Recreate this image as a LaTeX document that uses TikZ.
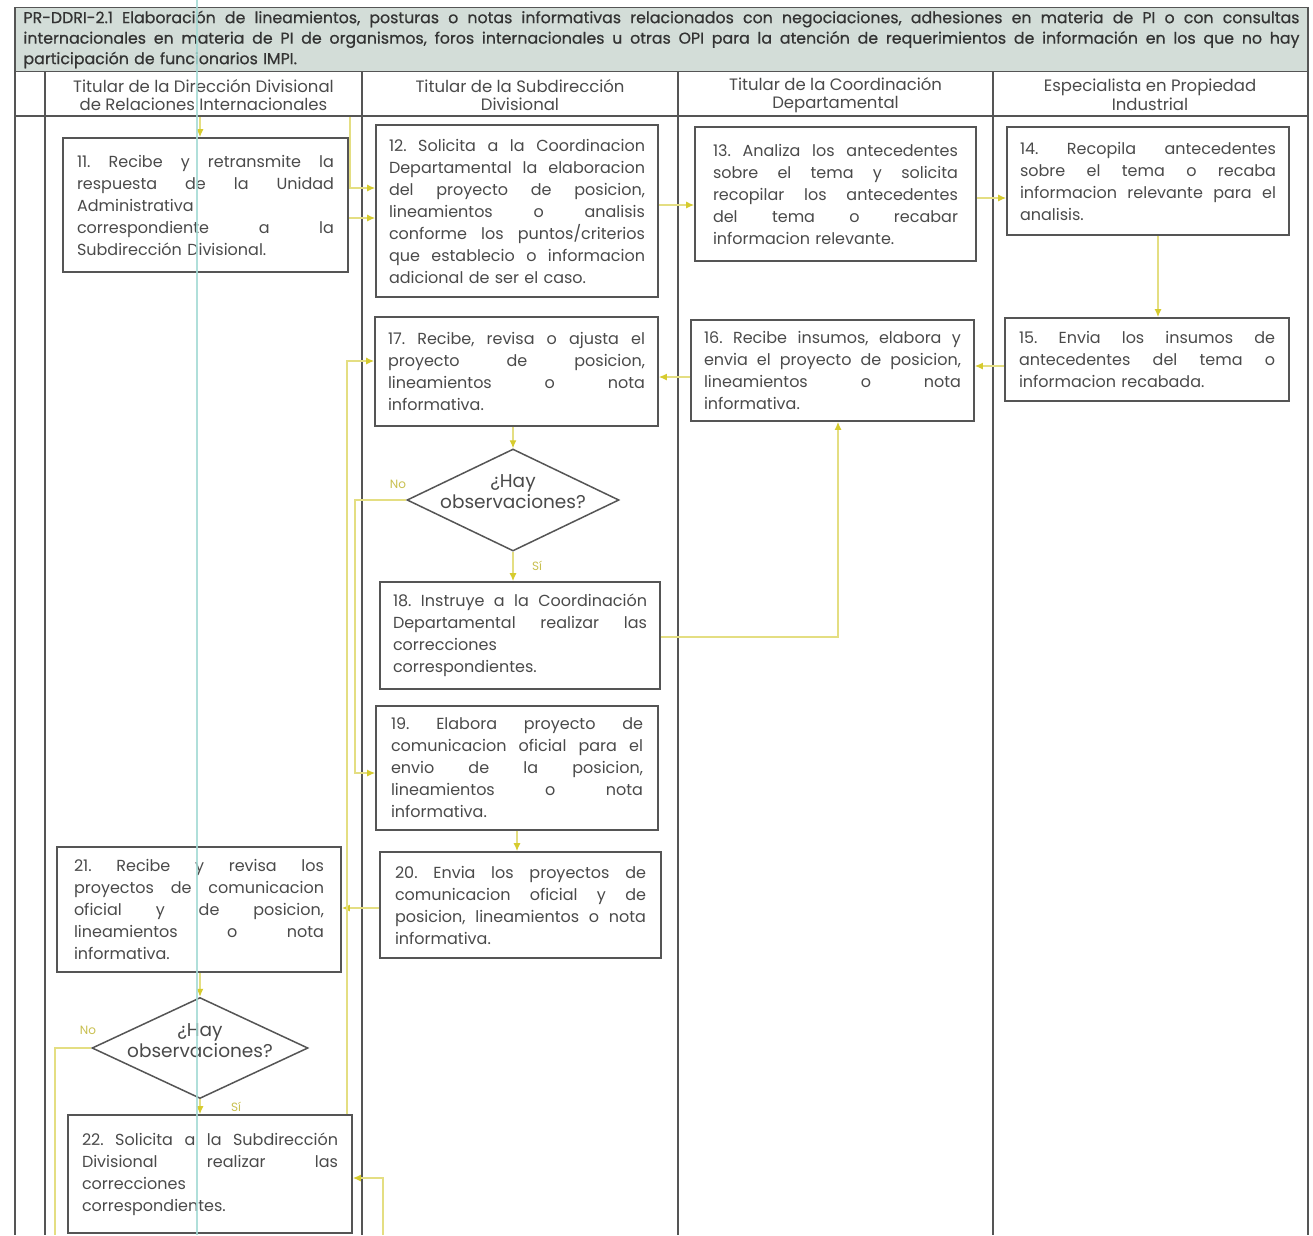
\documentclass[tikz,border=0pt]{standalone}
\usepackage{fontspec}
\setmainfont{Poppins}
\newfontfamily\titlefont[FakeBold=0.6]{Poppins}
\usetikzlibrary{shapes.geometric,arrows.meta,calc}
\definecolor{lanec}{HTML}{555555}
\definecolor{txt}{HTML}{4A4A4A}
\definecolor{ttl}{HTML}{D3DDD8}
\definecolor{flowc}{HTML}{E4DE82}
\definecolor{tipc}{HTML}{D6CB2E}
\definecolor{guide}{HTML}{A3DAD4}
\definecolor{lblc}{HTML}{C9C050}
\newlength\jw
\newcommand\jl[1]{\leavevmode\hbox to \jw{\spaceskip=0.26em plus 1fil\relax #1}}
\begin{document}
\frenchspacing
\begin{tikzpicture}[x=1pt,y=-1pt,
  every node/.style={font=\fontsize{16}{22}\selectfont, text=txt},
  box/.style={draw=lanec, line width=1.8pt, fill=white, align=left, inner xsep=0pt, inner ysep=0pt},
  bx/.style n args={3}{box, minimum width=#1, minimum height=#2, text width=#3, execute at begin node={\setlength{\jw}{#3}}},
  dec/.style={diamond, draw=lanec, line width=1.5pt, fill=white, aspect=2.1, inner sep=0pt},
  dtext/.style={align=center, font=\fontsize{18.5}{21}\selectfont},
  lane/.style={draw=lanec, line width=1.5pt},
  hdr/.style={align=center, font=\fontsize{16.5}{18.5}\selectfont},
  flow/.style={draw=flowc, line width=1.2pt, -{Latex[length=8pt,width=7pt,color=tipc,fill=tipc]}},
  flowline/.style={draw=flowc, line width=1.2pt},
  lbl/.style={font=\fontsize{12}{13}\selectfont, text=lblc},
]
\useasboundingbox (0,0) rectangle (1313,1235);
\fill[white] (0,0) rectangle (1313,1235);

% title
\node[draw=lanec, line width=1.2pt, fill=ttl, minimum width=1293pt, minimum height=64pt, inner sep=0pt,
      text width=1276pt, align=left, font=\titlefont\fontsize{15.8}{20.5}\selectfont, text=black!80,
      execute at begin node={\setlength{\jw}{1276pt}}] (title) at (661.5,39.5)
 {\jl{PR-DDRI-2.1 Elaboración de lineamientos, posturas o notas informativas relacionados con negociaciones, adhesiones en materia de PI o con consultas}\\
  \jl{internacionales en materia de PI de organismos, foros internacionales u otras OPI para la atención de requerimientos de información en los que no hay}\\
  participación de funcionarios IMPI.};

% lanes
\draw[lane] (15,71) -- (15,1235);
\draw[lane] (45,71) -- (45,1235);
\draw[lane] (362,71) -- (362,1235);
\draw[lane] (678,71) -- (678,1235);
\draw[lane] (993,71) -- (993,1235);
\draw[lane] (1308,71) -- (1308,1235);
\draw[lane] (15,116) -- (1308,116);

\node[hdr] (h1) at (203.5,95) {Titular de la Dirección Divisional\\de Relaciones Internacionales};
\node[hdr] (h2) at (520,95) {Titular de la Subdirección\\Divisional};
\node[hdr] (h3) at (835.5,95) {Titular de la Coordinación\\Departamental};
\node[hdr] (h4) at (1150,95) {Especialista en Propiedad\\Industrial};

% boxes
\node[bx={285pt}{134pt}{257pt}] (b11) at (205.5,205)
 {\jl{11. Recibe y retransmite la}\\ \jl{respuesta de la Unidad}\\ Administrativa\\ \jl{correspondiente a la}\\ Subdirección Divisional.};
\node[bx={282pt}{172pt}{256pt}] (b12) at (517,211)
 {\jl{12. Solicita a la Coordinacion}\\ \jl{Departamental la elaboracion}\\ \jl{del proyecto de posicion,}\\ \jl{lineamientos o analisis}\\ \jl{conforme los puntos/criterios}\\ \jl{que establecio o informacion}\\ adicional de ser el caso.};
\node[bx={281pt}{134pt}{245pt}] (b13) at (835.5,194)
 {\jl{13. Analiza los antecedentes}\\ \jl{sobre el tema y solicita}\\ \jl{recopilar los antecedentes}\\ \jl{del tema o recabar}\\ informacion relevante.};
\node[bx={282pt}{108pt}{256pt}] (b14) at (1148,181)
 {\jl{14. Recopila antecedentes}\\ \jl{sobre el tema o recaba}\\ \jl{informacion relevante para el}\\ analisis.};
\node[bx={284pt}{83pt}{256pt}] (b15) at (1147,359.5)
 {\jl{15. Envia los insumos de}\\ \jl{antecedentes del tema o}\\ informacion recabada.};
\node[bx={283pt}{101pt}{257pt}] (b16) at (832.5,370.5)
 {\jl{16. Recibe insumos, elabora y}\\ \jl{envia el proyecto de posicion,}\\ \jl{lineamientos o nota}\\ informativa.};
\node[bx={283pt}{109pt}{257pt}] (b17) at (516.5,371.5)
 {\jl{17. Recibe, revisa o ajusta el}\\ \jl{proyecto de posicion,}\\ \jl{lineamientos o nota}\\ informativa.};
\node[dec, minimum width=212pt, minimum height=102pt] (d1) at (513,500) {};
\node[dtext] (d1t) at (513,492) {¿Hay\\observaciones?};
\node[bx={280pt}{107pt}{254pt}] (b18) at (520,635.5)
 {\jl{18. Instruye a la Coordinación}\\ \jl{Departamental realizar las}\\ correcciones\\ correspondientes.};
\node[bx={282pt}{124pt}{252pt}] (b19) at (517,768)
 {\jl{19. Elabora proyecto de}\\ \jl{comunicacion oficial para el}\\ \jl{envio de la posicion,}\\ \jl{lineamientos o nota}\\ informativa.};
\node[bx={281pt}{106pt}{251pt}] (b20) at (520.5,905)
 {\jl{20. Envia los proyectos de}\\ \jl{comunicacion oficial y de}\\ \jl{posicion, lineamientos o nota}\\ informativa.};
\node[bx={284pt}{125pt}{250pt}] (b21) at (199,909.5)
 {\jl{21. Recibe y revisa los}\\ \jl{proyectos de comunicacion}\\ \jl{oficial y de posicion,}\\ \jl{lineamientos o nota}\\ informativa.};
\node[dec, minimum width=216pt, minimum height=101pt] (d2) at (200,1048) {};
\node[dtext] (d2t) at (200,1041) {¿Hay\\observaciones?};
\node[bx={284pt}{118pt}{256pt}] (b22) at (210,1174)
 {\jl{22. Solicita a la Subdirección}\\ \jl{Divisional realizar las}\\ correcciones\\ correspondientes.};

% labels
\node[lbl] (no1) at (398,484) {No};
\node[lbl] (si1) at (537,566) {Sí};
\node[lbl] (no2) at (88,1030) {No};
\node[lbl] (si2) at (236,1107) {Sí};

% free ends
\coordinate (s11) at (200,117);
\coordinate (s12) at (350,117);
\coordinate (e1) at (55,1235);
\coordinate (e2) at (383,1235);

% connectors
\draw[flow] (s11) -- (s11 |- b11.north);
\draw[flow] (s12) |- (b12.west |- 0,188);
\draw[flow] (b11.east |- 0,218) -- (b12.west |- 0,218);
\draw[flow] (b12.east |- 0,205) -- (b13.west |- 0,205);
\draw[flow] (b13.east |- 0,198) -- (b14.west |- 0,198);
\draw[flow] (b14.south -| 1158,0) -- (b15.north -| 1158,0);
\draw[flow] (b15.west |- 0,366) -- (b16.east |- 0,366);
\draw[flow] (b16.west |- 0,377) -- (b17.east |- 0,377);
\draw[flow] (d1.north |- b17.south) -- (d1.north);
\draw[flow] (d1.south) -- (d1.south |- b18.north);
\draw[flow] (d1.west) -- (d1.west -| 355,0) |- (b19.west |- 0,773);
\draw[flow] (b18.east |- 0,637) -| (b16.south -| 838,0);
\draw[flow] (b19.south -| 517,0) -- (b20.north -| 517,0);
\draw[flow] (b20.west |- 0,908) -- (b21.east |- 0,908);
\draw[flow] (b21.south -| 200,0) -- (d2.north);
\draw[flow] (d2.south) -- (b22.north -| 200,0);
\draw[flowline] (d2.west) -| (e1);
\draw[flow] (b22.north -| 347,0) |- (b17.west |- 0,361);
\draw[flow] (e2) |- (b22.east |- 0,1178);

% guide line
\coordinate (g1) at (197,0);
\coordinate (g2) at (197,1235);
\draw[guide, line width=1.5pt, opacity=0.85] (g1) -- (g2);
\end{tikzpicture}
\end{document}
